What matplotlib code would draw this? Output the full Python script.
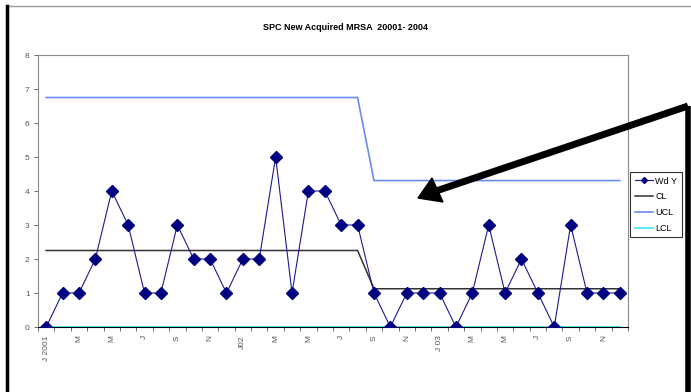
import numpy as np
import matplotlib.pyplot as plt
from matplotlib.patches import Polygon

plt.rcParams['font.family'] = ['Liberation Sans', 'DejaVu Sans']

# monthly counts Jan 2001 - Dec 2003
wd_y = [0, 1, 1, 2, 4, 3, 1, 1, 3, 2, 2, 1,
        2, 2, 5, 1, 4, 4, 3, 3, 1, 0, 1, 1,
        1, 0, 1, 3, 1, 2, 1, 0, 3, 1, 1, 1]
cl = [2.25] * 20 + [1.125] * 16
ucl = [6.75] * 20 + [4.307] * 16
lcl = [0] * 36
tick_labels = ['J 2001', 'M', 'M', 'J', 'S', 'N', 'J02', 'M', 'M', 'J', 'S', 'N',
               'J 03', 'M', 'M', 'J', 'S', 'N']

W, H = 691, 392
fig = plt.figure(figsize=(W / 100, H / 100), dpi=100)
ax = fig.add_axes([38 / W, 1 - 327 / H, 590 / W, 272 / H])

x = np.arange(len(wd_y))
ax.plot(x, lcl, color='#33e6f2', lw=1.2, label='LCL', zorder=2)
ax.plot(x, ucl, color='#6a8cf0', lw=1.2, label='UCL', zorder=2)
ax.plot(x, cl, color='#333333', lw=1.1, label='CL', zorder=2)
ax.plot(x, wd_y, color='#1a1a90', lw=0.8, marker='D', markersize=6,
        markerfacecolor='#000080', markeredgecolor='#000080', label='Wd Y', zorder=3)

ax.set_xlim(-0.5, len(wd_y) - 0.5)
ax.set_ylim(0, 8)
ax.set_yticks(range(9))
ax.tick_params(axis='y', labelsize=6, colors='#555555', length=3, width=0.6, pad=3)

ax.set_xticks(np.arange(-0.5, len(wd_y), 1.0))
ax.set_xticklabels([])
ax.tick_params(axis='x', which='major', length=3, width=0.6, color='#555555')
ax.set_xticks(np.arange(0, len(wd_y), 2), minor=True)
ax.set_xticklabels(tick_labels, minor=True, rotation=90, fontsize=6, color='#555555')
ax.tick_params(axis='x', which='minor', length=0, pad=6)

for s in ['top', 'right', 'left']:
    ax.spines[s].set_color('#8a8a8a')
    ax.spines[s].set_linewidth(0.8)
ax.spines['bottom'].set_color('#000000')
ax.spines['bottom'].set_linewidth(0.8)

h, l = ax.get_legend_handles_labels()
order = [3, 2, 1, 0]
leg = fig.legend([h[i] for i in order], [l[i] for i in order],
                 loc='upper left', bbox_to_anchor=(630 / W, 1 - 172 / H),
                 fontsize=6.5, frameon=True, fancybox=False, borderpad=0.5,
                 handlelength=2.0, handletextpad=0.3, labelspacing=0.75,
                 borderaxespad=0, markerscale=0.5)
leg.get_frame().set_edgecolor('#000000')
leg.get_frame().set_linewidth(0.8)

fig.text(0.5, 1 - 27 / H, 'SPC New Acquired MRSA  20001- 2004', ha='center',
         va='center', fontsize=6.5, fontweight='bold')

# page decorations: border lines and arrow
ov = fig.add_axes([0, 0, 1, 1], zorder=10)
ov.set_xlim(0, W)
ov.set_ylim(H, 0)
ov.axis('off')
ov.patch.set_alpha(0)
ov.plot([7, W], [6, 6], color='#999999', lw=1)
ov.plot([7, 7], [6, H], color='black', lw=2.5)
ov.plot([688, 688], [106, H], color='black', lw=4, solid_capstyle='butt')
ov.plot([688, 436], [106, 191], color='black', lw=5, solid_capstyle='butt')
ov.add_patch(Polygon([(418, 198), (432, 178), (443, 202)], closed=True,
                     facecolor='black', edgecolor='black', lw=1))

fig.savefig('out.png', dpi=100)
